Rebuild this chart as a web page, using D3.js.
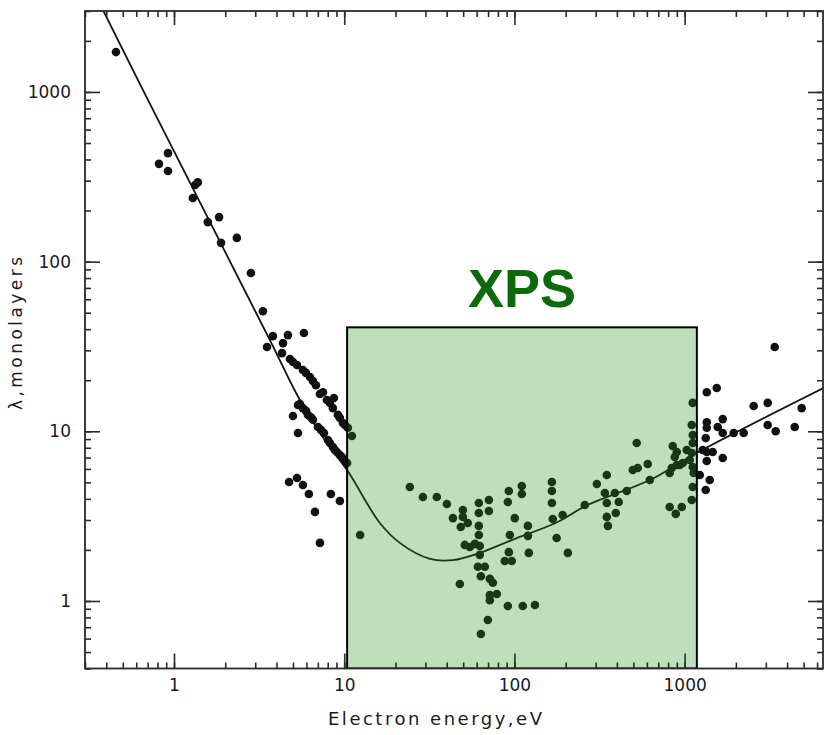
<!DOCTYPE html>
<html>
<head>
<meta charset="utf-8">
<script src="https://cdn.jsdelivr.net/npm/d3@7"></script>
<style>
	body { margin: 0; background: #fff; }
	svg { display: block; }
	.axis path, .axis line { stroke: #2a2a2a; stroke-width: 1.6; }
	.axis text { font-family: "DejaVu Sans", sans-serif; font-size: 17px; fill: #1a1a1a; }
</style>
</head>
<body>
<svg id="plot" width="826" height="735"></svg>
<script>

const X_DOMAIN = [0.3, 6500];
const Y_DOMAIN = [0.4, 3000];
const X_TICK_LABELS = [1, 10, 100, 1000];
const Y_TICK_LABELS = [1, 10, 100, 1000];

// universal curve
const CURVE_E = [0.37, 0.704, 3.66, 5.49, 7.91, 10.4, 16.2, 21.2, 31.9, 43.5, 62.6, 97.9, 177, 266, 624, 1178, 6560];
const CURVE_L = [3250, 896, 34.5, 15.3, 8.53, 5.91, 2.88, 2.20, 1.77, 1.74, 1.92, 2.30, 2.90, 3.66, 5.16, 7.45, 18.0];

// measured points (energy eV, lambda monolayers)
const DOT_E = [
	0.456, 0.922, 0.816, 0.922, 1.38, 1.33, 1.29, 1.58, 1.84, 1.89, 2.34, 2.83, 3.33,
	3.81, 4.67, 5.80, 3.52, 4.37, 4.31,
	4.80, 5.0, 5.28, 5.72, 5.96, 6.29, 6.55, 6.82, 7.20, 7.50, 7.91, 8.70, 8.24, 8.58, 9.18, 9.43, 9.83, 10.1, 10.5, 11.1,
	5.35, 5.50, 5.72, 5.96, 6.12, 6.38, 6.55, 7.01, 7.30, 7.60, 8.02, 8.24, 8.58, 8.82, 9.06, 9.43, 9.69, 10.1, 10.4,
	5.0, 5.35, 4.74, 5.28, 5.72, 6.20, 8.35, 9.43, 6.73, 7.20, 12.4,
	24.3, 29.0, 35.0, 40.1, 43.5, 49.8, 49.8, 53.2, 48.4, 61.8, 70.8, 61.8, 70.8, 61.8, 61.8,
	51.1, 54.7, 58.6, 62.6, 62.6, 61.0, 67.0, 63.5, 71.7, 74.7, 47.8, 71.7, 78.8, 71.7, 69.8, 63.5,
	92.7, 110.5, 110.5, 91.5, 100.5, 94.0, 120, 120, 92.7, 87.8, 96.5, 121.5, 91.5, 112, 132,
	166, 166, 166, 168, 192, 177, 206, 259, 305, 340, 389, 457, 349, 410, 394, 349, 354, 349,
	523, 496, 530, 607, 624, 851, 899, 1029, 1101, 1116, 1116, 1101, 1071, 1131, 1116, 1101,
	875, 899, 840, 817, 936, 817, 887, 962, 1116, 975, 1116,
	3381, 1349, 1544, 2545, 3076, 4872, 1349, 1674, 1349, 1565, 1674, 1942, 2223, 3076, 3427, 4432,
	1330, 1349, 1462, 1674, 1349, 1227, 1404, 1330, 1277
];
const DOT_L = [
	1718, 436, 377, 342, 293, 283, 237, 171, 183, 129, 138, 85.7, 51,
	36.4, 36.9, 38, 31.4, 33.1, 28.9,
	26.7, 25.6, 24.6, 23.0, 22.1, 20.9, 19.8, 18.7, 16.6, 17.0, 15.3, 15.7, 14.7, 13.7, 12.5, 12.0, 11.2, 10.9, 10.5, 9.38,
	14.3, 14.5, 13.7, 13.2, 12.5, 12.1, 11.7, 10.6, 10.2, 9.77, 8.89, 8.53, 8.08, 7.76, 7.55, 7.25, 7.06, 6.68, 6.50,
	12.3, 9.77, 5.03, 5.31, 4.83, 4.27, 4.27, 3.88, 3.35, 2.20, 2.45,
	4.70, 4.10, 4.10, 3.73, 3.08, 3.44, 3.13, 2.88, 2.73, 3.78, 3.94, 3.30, 3.39, 2.77, 2.45,
	2.14, 2.08, 2.17, 2.11, 1.87, 1.59, 1.59, 1.40, 1.35, 1.28, 1.26, 1.085, 1.10, 1.01, 0.773, 0.639,
	4.45, 4.76, 4.27, 3.83, 3.08, 2.45, 2.77, 2.42, 1.94, 1.72, 1.72, 1.92, 0.934, 0.934, 0.947,
	5.03, 4.45, 3.78, 3.04, 3.21, 2.35, 1.92, 3.68, 4.89, 4.33, 4.33, 4.45, 3.78, 3.83, 3.30, 3.13, 2.77, 5.53,
	8.53, 5.92, 6.08, 6.42, 5.16, 8.19, 7.55, 7.76, 10.9, 9.51, 8.53, 7.45, 6.77, 5.68, 4.70, 3.94,
	7.06, 6.33, 6.08, 5.68, 6.33, 3.58, 3.26, 3.58, 14.7, 6.50, 6.16,
	31.4, 17.0, 18.0, 14.1, 14.7, 13.7, 11.3, 11.8, 10.5, 10.6, 9.77, 9.77, 9.77, 10.9, 10.0, 10.6,
	9.13, 7.55, 7.55, 6.96, 6.68, 5.53, 5.16, 4.51, 7.76
];

// XPS window
const XPS_E = [10.4, 1180];
const XPS_TOP = 41;
const XPS_LABEL = "XPS";

const X_TITLE = "Electron energy,eV";
const Y_TITLE = "λ,monolayers";

function whenDocumentLoaded(action) {
	if (document.readyState === "loading") {
		document.addEventListener("DOMContentLoaded", action);
	} else {
		action();
	}
}

// 2..9 times every decade inside the domain
function minorTicks(domain) {
	let out = [];
	for (let k = -2; k <= 4; k++) {
		for (let m = 1; m < 10; m++) {
			let v = m * Math.pow(10, k);
			if (v >= domain[0] && v <= domain[1]) out.push(v);
		}
	}
	return out;
}

whenDocumentLoaded(() => {
	const svg = d3.select("#plot");

	const x = d3.scaleLog().domain(X_DOMAIN).range([85, 823]);
	const y = d3.scaleLog().domain(Y_DOMAIN).range([668.5, 11]);

	const [x0, x1] = x.range();
	const [y0, y1] = y.range();

	svg.append("defs").append("clipPath").attr("id", "clip")
		.append("rect")
		.attr("x", x0).attr("y", y1)
		.attr("width", x1 - x0).attr("height", y0 - y1);

	const plot = svg.append("g").attr("clip-path", "url(#clip)");

	// points
	plot.append("g")
		.selectAll("circle")
		.data(DOT_E.map((e, i) => ({ e: e, l: DOT_L[i] })))
		.enter().append("circle")
		.attr("cx", d => x(d.e))
		.attr("cy", d => y(d.l))
		.attr("r", 4.3)
		.attr("fill", "#111");

	// curve
	const line = d3.line()
		.x(d => x(d.e))
		.y(d => y(d.l))
		.curve(d3.curveCatmullRom.alpha(0.5));

	plot.append("path")
		.datum(CURVE_E.map((e, i) => ({ e: e, l: CURVE_L[i] })))
		.attr("d", line)
		.attr("fill", "none")
		.attr("stroke", "#111")
		.attr("stroke-width", 1.8);

	// XPS box, translucent green over the marks
	const bx = x(XPS_E[0]), bw = x(XPS_E[1]) - x(XPS_E[0]);
	const by = y(XPS_TOP), bh = y(Y_DOMAIN[0]) - y(XPS_TOP);
	plot.append("rect")
		.attr("x", bx).attr("y", by).attr("width", bw).attr("height", bh)
		.attr("fill", "rgb(35,150,25)")
		.attr("fill-opacity", 0.3);
	plot.append("rect")
		.attr("x", bx).attr("y", by).attr("width", bw).attr("height", bh)
		.attr("fill", "none")
		.attr("stroke", "#000")
		.attr("stroke-width", 2);

	svg.append("text")
		.attr("x", bx + bw / 2)
		.attr("y", by - 20)
		.attr("text-anchor", "middle")
		.attr("font-family", "Liberation Sans, Arial, sans-serif")
		.attr("font-weight", "bold")
		.attr("font-size", 54)
		.attr("fill", "#0b6b0b")
		.text(XPS_LABEL);

	// axes: ticks point inward on all four sides
	const minX = minorTicks(X_DOMAIN), minY = minorTicks(Y_DOMAIN);

	const addAxis = (axis, tx, ty) => {
		const g = svg.append("g").attr("class", "axis")
			.attr("transform", `translate(${tx},${ty})`)
			.call(axis);
		g.select(".domain").remove();
		return g;
	};

	addAxis(d3.axisBottom(x).tickValues(minX).tickSize(-6).tickFormat(""), 0, y0);
	addAxis(d3.axisBottom(x).tickValues(X_TICK_LABELS).tickSize(-15).tickPadding(10).tickFormat(d3.format("d")), 0, y0);
	addAxis(d3.axisTop(x).tickValues(minX).tickSize(-6).tickFormat(""), 0, y1);
	addAxis(d3.axisTop(x).tickValues(X_TICK_LABELS).tickSize(-14).tickFormat(""), 0, y1);

	addAxis(d3.axisLeft(y).tickValues(minY).tickSize(-6).tickFormat(""), x0, 0);
	addAxis(d3.axisLeft(y).tickValues(Y_TICK_LABELS).tickSize(-15).tickPadding(14).tickFormat(d3.format("d")), x0, 0);
	addAxis(d3.axisRight(y).tickValues(minY).tickSize(-6).tickFormat(""), x1, 0);
	addAxis(d3.axisRight(y).tickValues(Y_TICK_LABELS).tickSize(-15).tickFormat(""), x1, 0);

	svg.append("rect")
		.attr("x", x0).attr("y", y1)
		.attr("width", x1 - x0).attr("height", y0 - y1)
		.attr("fill", "none")
		.attr("stroke", "#2a2a2a")
		.attr("stroke-width", 1.8);

	// titles
	svg.append("text")
		.attr("x", 328).attr("y", 725)
		.attr("textLength", 214).attr("lengthAdjust", "spacing")
		.attr("font-family", "DejaVu Sans, sans-serif")
		.attr("font-size", 18)
		.attr("fill", "#1a1a1a")
		.text(X_TITLE);

	svg.append("text")
		.attr("transform", "translate(22,410) rotate(-90)")
		.attr("textLength", 153).attr("lengthAdjust", "spacing")
		.attr("font-family", "DejaVu Sans, sans-serif")
		.attr("font-size", 17)
		.attr("fill", "#1a1a1a")
		.text(Y_TITLE);
});
</script>
</body>
</html>
